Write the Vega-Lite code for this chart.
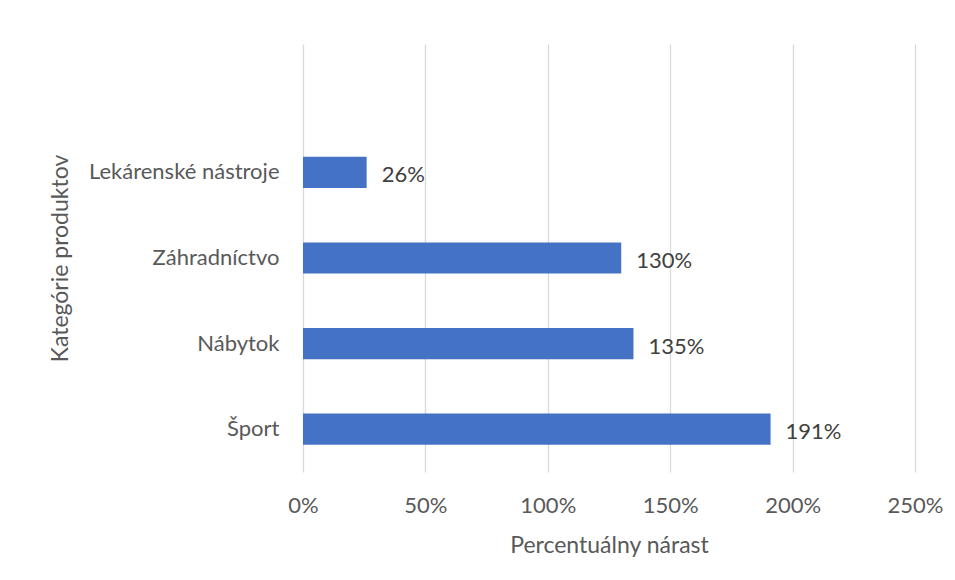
{
  "$schema": "https://vega.github.io/schema/vega-lite/v6.json",
  "autosize": "none",
  "width": 612,
  "height": 428,
  "padding": {"left": 303, "top": 44, "right": 40, "bottom": 108},
  "background": "white",
  "data": {
    "values": [
      {"kategoria": "Lekárenské nástroje", "narast": 0.26},
      {"kategoria": "Záhradníctvo", "narast": 1.30},
      {"kategoria": "Nábytok", "narast": 1.35},
      {"kategoria": "Šport", "narast": 1.91}
    ]
  },
  "encoding": {
    "y": {
      "field": "kategoria",
      "type": "nominal",
      "sort": null,
      "scale": {"domain": [" ", "Lekárenské nástroje", "Záhradníctvo", "Nábytok", "Šport"], "paddingInner": 0.636, "paddingOuter": 0.318},
      "axis": {
        "title": "Kategórie produktov",
        "domain": false,
        "ticks": false,
        "labelPadding": 24,
        "labelLimit": 400,
        "labelFont": "Lato",
        "labelFontSize": 22,
        "labelColor": "#595959",
        "titleFont": "Lato",
        "titleFontSize": 23,
        "titleFontWeight": "normal",
        "titleColor": "#595959",
        "titleX": -243,
        "titleY": 214,
        "titleAngle": -90,
        "titleAlign": "center",
        "titleBaseline": "middle"
      }
    },
    "x": {
      "field": "narast",
      "type": "quantitative",
      "scale": {"domain": [0, 2.5], "nice": false},
      "axis": {
        "title": "Percentuálny nárast",
        "format": ".0%",
        "values": [0, 0.5, 1, 1.5, 2, 2.5],
        "domain": false,
        "ticks": false,
        "grid": true,
        "gridColor": "#d9d9d9",
        "gridWidth": 1.3,
        "labelPadding": 33,
        "labelFlush": false,
        "labelOverlap": false,
        "labelFont": "Lato",
        "labelFontSize": 22,
        "labelColor": "#595959",
        "labelBaseline": "middle",
        "titleFont": "Lato",
        "titleFontSize": 23,
        "titleFontWeight": "normal",
        "titleColor": "#595959",
        "titleY": 73,
        "titleBaseline": "middle"
      }
    }
  },
  "layer": [
    {"mark": {"type": "bar", "color": "#4472C4"}},
    {
      "mark": {"type": "text", "align": "left", "baseline": "middle", "dx": 15, "dy": 3, "font": "Lato", "fontSize": 22, "color": "#404040"},
      "encoding": {"text": {"field": "narast", "type": "quantitative", "format": ".0%"}}
    }
  ],
  "config": {"view": {"stroke": null}}
}
